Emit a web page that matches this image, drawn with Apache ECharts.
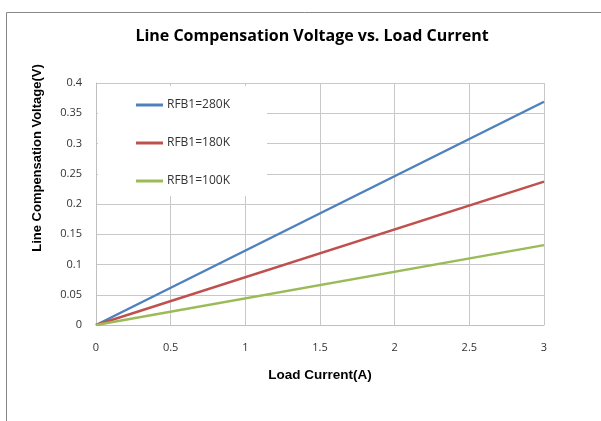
<!DOCTYPE html>
<html>
<head>
<meta charset="utf-8">
<script src="https://cdn.jsdelivr.net/npm/echarts@6/dist/echarts.min.js"></script>
<style>
  html, body { margin: 0; padding: 0; background: #fff; }
  #container { width: 601px; height: 421px; }
</style>
</head>
<body>
<div id="container"></div>
<script>
// load current (A)
var current = [0, 3];
// line compensation voltage (V) per RFB1
var v280 = [0, 0.369];
var v180 = [0, 0.237];
var v100 = [0, 0.132];
var seriesNames = ['RFB1=280K', 'RFB1=180K', 'RFB1=100K'];
var colors = ['#4F81BD', '#C0504D', '#9BBB59'];

function pairs(xs, ys) {
    var out = [];
    for (var i = 0; i < xs.length; i++) out.push([xs[i], ys[i]]);
    return out;
}

var dom = document.getElementById('container');
var myChart = echarts.init(dom);

var lineSeries = [v280, v180, v100].map(function (vals, i) {
    return {
        name: seriesNames[i],
        type: 'line',
        showSymbol: false,
        silent: true,
        data: pairs(current, vals),
        lineStyle: { width: 2.5, color: colors[i] },
        itemStyle: { color: colors[i] }
    };
});

var option = {
    animation: false,
    backgroundColor: '#fff',
    color: colors,
    title: {
        text: 'Line Compensation Voltage vs. Load Current',
        left: 307,
        textAlign: 'center',
        top: 23,
        textStyle: {
            fontFamily: 'Open Sans',
            fontSize: 16,
            fontWeight: 'bold',
            color: '#000'
        }
    },
    graphic: [{
        type: 'rect',
        shape: { x: 6.5, y: 12.5, width: 640, height: 440 },
        style: { fill: 'none', stroke: '#888', lineWidth: 1 },
        silent: true,
        z: -1
    }, {
        // y axis title sits above the plot centre in the original
        type: 'text',
        x: 37,
        y: 158,
        rotation: Math.PI / 2,
        style: {
            text: 'Line Compensation Voltage(V)',
            fontFamily: 'Liberation Sans',
            fontSize: 13,
            fontWeight: 'bold',
            fill: '#000',
            align: 'center',
            verticalAlign: 'middle'
        },
        silent: true
    }],
    legend: {
        orient: 'vertical',
        left: 98,
        top: 86,
        itemWidth: 27,
        itemHeight: 3,
        itemGap: 26,
        padding: [13, 37, 9, 38],
        backgroundColor: '#fff',
        icon: 'rect',
        data: seriesNames,
        textStyle: {
            fontFamily: 'Open Sans',
            fontSize: 12,
            color: '#333',
            padding: [0, 0, 0, -1]
        }
    },
    grid: {
        left: 96,
        top: 83,
        right: 57,
        bottom: 96,
        containLabel: false
    },
    xAxis: {
        type: 'value',
        min: 0,
        max: 3,
        interval: 0.5,
        name: 'Load Current(A)',
        nameLocation: 'middle',
        nameGap: 43,
        nameTextStyle: {
            fontFamily: 'Liberation Sans',
            fontSize: 13.5,
            fontWeight: 'bold',
            color: '#000'
        },
        axisLine: { show: true, lineStyle: { color: '#bfbfbf', width: 1 } },
        axisTick: { show: false },
        axisLabel: {
            margin: 17,
            fontFamily: 'Open Sans',
            fontSize: 11,
            color: '#333'
        },
        splitLine: { show: true, lineStyle: { color: '#c8c8c8', width: 1 } }
    },
    yAxis: {
        type: 'value',
        min: 0,
        max: 0.4,
        interval: 0.05,
        axisLine: { show: true, lineStyle: { color: '#bfbfbf', width: 1 } },
        axisTick: { show: false },
        axisLabel: {
            margin: 14,
            fontFamily: 'Open Sans',
            fontSize: 11,
            color: '#333'
        },
        splitLine: { show: true, lineStyle: { color: '#c8c8c8', width: 1 } }
    },
    series: lineSeries
};

myChart.setOption(option, true);
</script>
</body>
</html>
